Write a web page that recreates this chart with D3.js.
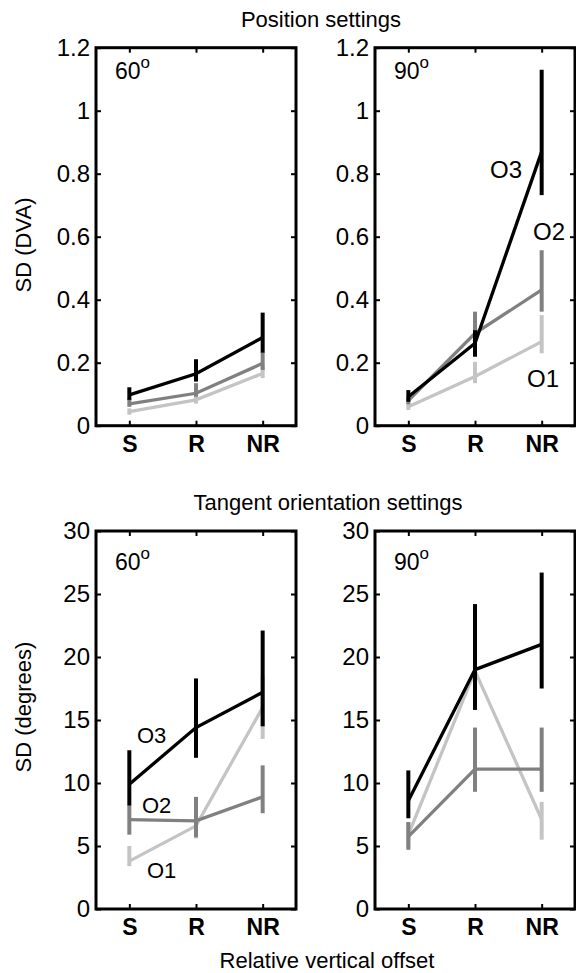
<!DOCTYPE html>
<html>
<head>
<meta charset="utf-8">
<script src="https://cdn.jsdelivr.net/npm/d3@7"></script>
<style>
  body { margin: 0; background: #fff; }
  text { font-family: "Liberation Sans", Arial, sans-serif; fill: #000; }
</style>
</head>
<body>
<script>

// categories and series
var categories = ["S", "R", "NR"];
var seriesNames = ["O1", "O2", "O3"];

// tick values / labels
var posTicks = [0, 0.2, 0.4, 0.6, 0.8, 1, 1.2];
var posTickLabels = ["0", "0.2", "0.4", "0.6", "0.8", "1", "1.2"];
var oriTicks = [0, 5, 10, 15, 20, 25, 30];
var oriTickLabels = ["0", "5", "10", "15", "20", "25", "30"];

// position settings, 60 deg  (rows: O1, O2, O3)
var pos60Mean = [[0.045, 0.082, 0.166], [0.069, 0.103, 0.198], [0.098, 0.165, 0.280]];
var pos60Lo   = [[0.035, 0.070, 0.151], [0.060, 0.092, 0.177], [0.082, 0.140, 0.232]];
var pos60Hi   = [[0.055, 0.095, 0.193], [0.087, 0.135, 0.235], [0.122, 0.211, 0.359]];

// position settings, 90 deg
var pos90Mean = [[0.060, 0.156, 0.267], [0.080, 0.293, 0.431], [0.092, 0.262, 0.870]];
var pos90Lo   = [[0.050, 0.135, 0.230], [0.068, 0.230, 0.362], [0.076, 0.219, 0.732]];
var pos90Hi   = [[0.070, 0.203, 0.351], [0.092, 0.362, 0.557], [0.113, 0.303, 1.130]];

// tangent orientation settings, 60 deg
var ori60Mean = [[3.8, 6.6, 16.0], [7.1, 7.0, 8.9], [9.9, 14.4, 17.2]];
var ori60Lo   = [[3.4, 5.6, 13.5], [5.9, 5.7, 7.6], [8.2, 12.0, 14.5]];
var ori60Hi   = [[5.0, 7.6, 18.5], [8.2, 8.9, 11.4], [12.6, 18.3, 22.1]];

// tangent orientation settings, 90 deg
var ori90Mean = [[5.9, 18.9, 7.1], [5.75, 11.1, 11.1], [8.6, 19.0, 21.0]];
var ori90Lo   = [[4.9, 16.5, 5.5], [4.7, 9.3, 9.3], [7.2, 15.8, 17.5]];
var ori90Hi   = [[6.9, 21.5, 8.5], [6.9, 14.4, 14.4], [11.0, 24.2, 26.7]];

var colors = ["#c4c4c4", "#808080", "#000000"];

var svg = d3.select("body").append("svg")
    .attr("width", 576)
    .attr("height", 973);

var panels = [
    {x0: 96,  y0: 47.7, title: "60", max: 1.2, ticks: posTicks, labels: posTickLabels,
     mean: pos60Mean, lo: pos60Lo, hi: pos60Hi, tagY: 79},
    {x0: 375, y0: 47.7, title: "90", max: 1.2, ticks: posTicks, labels: posTickLabels,
     mean: pos90Mean, lo: pos90Lo, hi: pos90Hi, tagY: 79},
    {x0: 96,  y0: 531,  title: "60", max: 30, ticks: oriTicks, labels: oriTickLabels,
     mean: ori60Mean, lo: ori60Lo, hi: ori60Hi, tagY: 570},
    {x0: 375, y0: 531,  title: "90", max: 30, ticks: oriTicks, labels: oriTickLabels,
     mean: ori90Mean, lo: ori90Lo, hi: ori90Hi, tagY: 570}
];

var panelW = 200, panelH = 378;

function drawPanel(p) {
    var x = d3.scalePoint()
        .domain(categories)
        .range([p.x0, p.x0 + panelW])
        .padding(0.5);
    var y = d3.scaleLinear()
        .domain([0, p.max])
        .range([p.y0 + panelH, p.y0]);

    var g = svg.append("g");

    // series: line then error bars, O3 on top
    p.mean.forEach(function (vals, si) {
        var line = d3.line()
            .x(function (d, i) { return x(categories[i]); })
            .y(function (d) { return y(d); });

        g.append("path")
            .datum(vals)
            .attr("d", line)
            .attr("fill", "none")
            .attr("stroke", colors[si])
            .attr("stroke-width", 3.3);

        g.selectAll(".bar" + si)
            .data(vals)
            .enter().append("line")
            .attr("x1", function (d, i) { return x(categories[i]); })
            .attr("x2", function (d, i) { return x(categories[i]); })
            .attr("y1", function (d, i) { return y(p.lo[si][i]); })
            .attr("y2", function (d, i) { return y(p.hi[si][i]); })
            .attr("stroke", colors[si])
            .attr("stroke-width", 4);
    });

    // axes with inward ticks
    var left = g.append("g")
        .attr("transform", "translate(" + p.x0 + ",0)")
        .call(d3.axisLeft(y).tickValues(p.ticks)
            .tickFormat(function (d, i) { return p.labels[i]; })
            .tickSize(-5).tickPadding(6));
    var right = g.append("g")
        .attr("transform", "translate(" + (p.x0 + panelW) + ",0)")
        .call(d3.axisRight(y).tickValues(p.ticks).tickFormat("").tickSize(-5));
    var bottom = g.append("g")
        .attr("transform", "translate(0," + (p.y0 + panelH) + ")")
        .call(d3.axisBottom(x).tickSize(-5).tickPadding(10));
    var top = g.append("g")
        .attr("transform", "translate(0," + p.y0 + ")")
        .call(d3.axisTop(x).tickFormat("").tickSize(-5));

    [left, right, bottom, top].forEach(function (a) {
        a.select(".domain").remove();
        a.selectAll(".tick line").attr("stroke", "#000").attr("stroke-width", 2);
    });

    left.selectAll(".tick text")
        .attr("font-size", 24)
        .attr("font-family", "Liberation Sans, Arial, sans-serif")
        .attr("fill", "#000");
    bottom.selectAll(".tick text")
        .attr("font-size", 23)
        .attr("font-weight", "bold")
        .attr("font-family", "Liberation Sans, Arial, sans-serif")
        .attr("fill", "#000")
        .attr("dy", null)
        .attr("y", 26);

    // frame
    g.append("rect")
        .attr("x", p.x0)
        .attr("y", p.y0)
        .attr("width", panelW)
        .attr("height", panelH)
        .attr("fill", "none")
        .attr("stroke", "#000")
        .attr("stroke-width", 3);

    // angle tag
    var tag = g.append("text")
        .attr("x", p.x0 + 19)
        .attr("y", p.tagY)
        .attr("font-size", 23)
        .text(p.title);
    tag.append("tspan")
        .attr("dy", -11)
        .attr("font-size", 17)
        .text("o");
}

panels.forEach(drawPanel);

// series labels
var seriesLabels = [
    {text: seriesNames[2], x: 490, y: 178, size: 24},
    {text: seriesNames[1], x: 533, y: 240, size: 24},
    {text: seriesNames[0], x: 527, y: 387, size: 24},
    {text: seriesNames[2], x: 137, y: 743, size: 22},
    {text: seriesNames[1], x: 142, y: 813, size: 22},
    {text: seriesNames[0], x: 147, y: 878, size: 22}
];
svg.selectAll(".slabel")
    .data(seriesLabels)
    .enter().append("text")
    .attr("x", function (d) { return d.x; })
    .attr("y", function (d) { return d.y; })
    .attr("font-size", function (d) { return d.size; })
    .text(function (d) { return d.text; });

// titles and axis labels
svg.append("text").attr("x", 321).attr("y", 27).attr("text-anchor", "middle")
    .attr("font-size", 22).text("Position settings");
svg.append("text").attr("x", 328).attr("y", 510).attr("text-anchor", "middle")
    .attr("font-size", 22).text("Tangent orientation settings");
svg.append("text").attr("x", 327).attr("y", 968).attr("text-anchor", "middle")
    .attr("font-size", 22).text("Relative vertical offset");

svg.append("text")
    .attr("transform", "translate(31,245) rotate(-90)")
    .attr("text-anchor", "middle")
    .attr("font-size", 22)
    .text("SD (DVA)");
svg.append("text")
    .attr("transform", "translate(31,707) rotate(-90)")
    .attr("text-anchor", "middle")
    .attr("font-size", 22)
    .text("SD (degrees)");

</script>
</body>
</html>
